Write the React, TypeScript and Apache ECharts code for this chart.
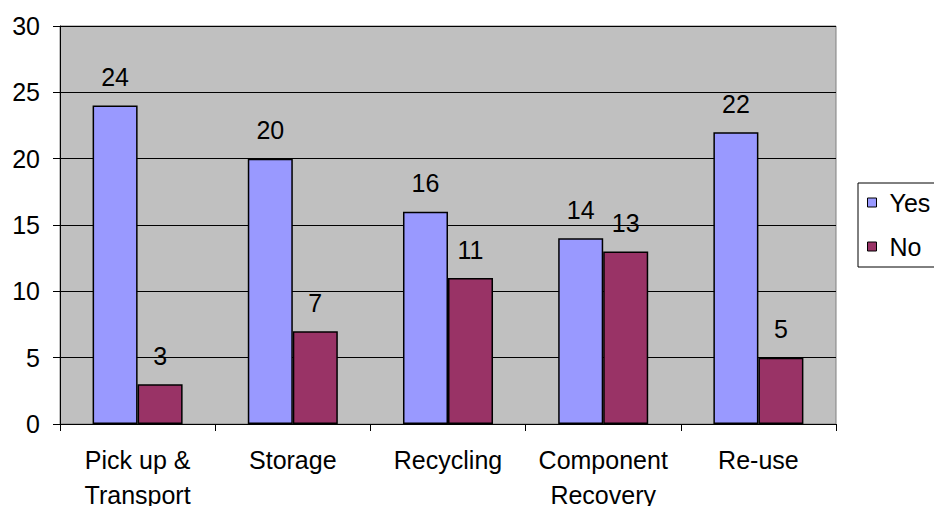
import React, { useEffect, useRef } from "react";
import * as echarts from "echarts";

const categories = ["Pick up &\nTransport", "Storage", "Recycling", "Component\nRecovery", "Re-use"];
const yesValues = [24, 20, 16, 14, 22];
const noValues = [3, 7, 11, 13, 5];
const seriesNames = ["Yes", "No"];

const FONT = "'Liberation Sans', Arial, sans-serif";
const FONT_SIZE = 25;

export default function App() {
  const ref = useRef<HTMLDivElement>(null);

  useEffect(() => {
    if (!ref.current) return;
    const chart = echarts.init(ref.current, null, { renderer: "svg" });
    const labelStyle = {
      show: true,
      position: "top" as const,
      distance: 16,
      color: "#000",
      fontSize: FONT_SIZE,
      fontFamily: FONT,
    };
    chart.setOption({
      animation: false,
      backgroundColor: "#fff",
      textStyle: { fontFamily: FONT },
      grid: {
        left: 60,
        right: 98,
        top: 26,
        bottom: 82,
        outerBoundsMode: "none",
        containLabel: false,
        show: true,
        backgroundColor: "#c0c0c0",
        borderColor: "#808080",
        borderWidth: 1,
      },
      legend: {
        orient: "vertical",
        left: 858,
        top: 183,
        data: seriesNames,
        icon: "rect",
        itemWidth: 9,
        itemHeight: 9,
        itemGap: 19,
        padding: [7, 30, 8, 9],
        borderColor: "#000",
        borderWidth: 1,
        textStyle: { fontSize: FONT_SIZE, color: "#000", fontFamily: FONT, padding: [0, 0, 0, 8] },
        itemStyle: { borderColor: "#000", borderWidth: 1 },
      },
      xAxis: {
        type: "category",
        data: categories,
        axisLine: { show: true, lineStyle: { color: "#000", width: 1 } },
        axisTick: { show: true, length: 7, lineStyle: { color: "#000" } },
        axisLabel: {
          color: "#000",
          fontSize: FONT_SIZE,
          fontFamily: FONT,
          lineHeight: 35,
          margin: 18,
          interval: 0,
        },
      },
      yAxis: {
        type: "value",
        min: 0,
        max: 30,
        interval: 5,
        axisLine: { show: true, lineStyle: { color: "#000", width: 1 } },
        axisTick: { show: true, length: 7, lineStyle: { color: "#000" } },
        axisLabel: { color: "#000", fontSize: FONT_SIZE, fontFamily: FONT, margin: 20 },
        splitLine: { show: true, lineStyle: { color: "#000", width: 1 } },
      },
      series: [
        {
          name: seriesNames[0],
          type: "bar",
          data: yesValues,
          barGap: "0%",
          barCategoryGap: "42%",
          itemStyle: { color: "#9999ff", borderColor: "#000", borderWidth: 1.5 },
          label: labelStyle,
        },
        {
          name: seriesNames[1],
          type: "bar",
          data: noValues,
          barGap: "0%",
          barCategoryGap: "42%",
          itemStyle: { color: "#993366", borderColor: "#000", borderWidth: 1.5 },
          label: labelStyle,
        },
      ],
    });
    return () => chart.dispose();
  }, []);

  return (
    <div
      ref={ref}
      style={{ position: "fixed", left: 0, top: 0, width: 934, height: 506 }}
    />
  );
}
